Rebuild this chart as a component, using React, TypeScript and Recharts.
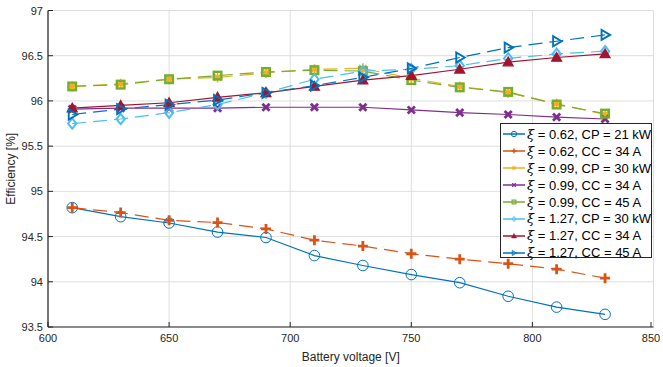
import React from 'react';
import { LineChart, Line, XAxis, YAxis, CartesianGrid } from 'recharts';

// Battery voltage sweep [V]
const voltages = [610, 630, 650, 670, 690, 710, 730, 750, 770, 790, 810, 830];

// Efficiency [%] per operating point
const xi062Cp21 = [94.82, 94.72, 94.65, 94.55, 94.49, 94.29, 94.18, 94.08, 93.99, 93.84, 93.72, 93.64];
const xi062Cc34 = [94.82, 94.765, 94.68, 94.655, 94.585, 94.46, 94.395, 94.31, 94.25, 94.2, 94.14, 94.04];
const xi099Cp30 = [96.16, 96.19, 96.24, 96.26, 96.31, 96.35, 96.36, 96.25, 96.16, 96.09, 95.97, 95.85];
const xi099Cc34 = [95.91, 95.92, 95.92, 95.92, 95.93, 95.93, 95.93, 95.9, 95.87, 95.85, 95.82, 95.8];
const xi099Cc45 = [96.16, 96.18, 96.24, 96.28, 96.32, 96.34, 96.33, 96.23, 96.15, 96.1, 95.96, 95.86];
const xi127Cp30 = [95.75, 95.8, 95.87, 95.96, 96.09, 96.24, 96.33, 96.35, 96.39, 96.47, 96.52, 96.55];
const xi127Cc34 = [95.92, 95.95, 95.98, 96.04, 96.09, 96.16, 96.23, 96.28, 96.35, 96.43, 96.48, 96.52];
const xi127Cc45 = [95.85, 95.91, 95.96, 96.01, 96.09, 96.17, 96.26, 96.36, 96.48, 96.59, 96.66, 96.73];

const xTicks = [600, 650, 700, 750, 800, 850];
const yTicks = [93.5, 94, 94.5, 95, 95.5, 96, 96.5, 97];

type Marker = 'circle' | 'plus' | 'star' | 'cross' | 'square' | 'diamond' | 'triUp' | 'triRight';

const series: { key: string; xi: string; rest: string; color: string; dashed: boolean; marker: Marker; values: number[] }[] = [
  { key: 's1', xi: '0.62', rest: 'CP = 21 kW', color: '#0072BD', dashed: false, marker: 'circle', values: xi062Cp21 },
  { key: 's2', xi: '0.62', rest: 'CC = 34 A', color: '#D95319', dashed: true, marker: 'plus', values: xi062Cc34 },
  { key: 's3', xi: '0.99', rest: 'CP = 30 kW', color: '#EDB120', dashed: true, marker: 'star', values: xi099Cp30 },
  { key: 's4', xi: '0.99', rest: 'CC = 34 A', color: '#7E2F8E', dashed: false, marker: 'cross', values: xi099Cc34 },
  { key: 's5', xi: '0.99', rest: 'CC = 45 A', color: '#77AC30', dashed: true, marker: 'square', values: xi099Cc45 },
  { key: 's6', xi: '1.27', rest: 'CP = 30 kW', color: '#4DBEEE', dashed: true, marker: 'diamond', values: xi127Cp30 },
  { key: 's7', xi: '1.27', rest: 'CC = 34 A', color: '#A2142F', dashed: false, marker: 'triUp', values: xi127Cc34 },
  { key: 's8', xi: '1.27', rest: 'CC = 45 A', color: '#0072BD', dashed: true, marker: 'triRight', values: xi127Cc45 },
];

const data = voltages.map((v, i) => {
  const row: Record<string, number> = { v };
  series.forEach((s) => (row[s.key] = s.values[i]));
  return row;
});

const AXIS = '#262626';
const GRID = '#dedede';
const FONT = '"Liberation Sans", Arial, Helvetica, sans-serif';

const drawMarker = (m: Marker, cx: number, cy: number, color: string, k = 1, key?: string) => {
  const h = 5 * k;
  switch (m) {
    case 'circle':
      return <circle key={key} cx={cx} cy={cy} r={5.3 * k} fill="none" stroke={color} strokeWidth={1} />;
    case 'plus':
      return (
        <path key={key} d={`M${cx - h} ${cy}H${cx + h}M${cx} ${cy - h}V${cy + h}`} stroke={color} strokeWidth={2.8 * k} />
      );
    case 'star': {
      const d = h * 0.72;
      return (
        <path
          key={key}
          d={`M${cx - h} ${cy}H${cx + h}M${cx} ${cy - h}V${cy + h}M${cx - d} ${cy - d}L${cx + d} ${cy + d}M${cx - d} ${cy + d}L${cx + d} ${cy - d}`}
          stroke={color}
          strokeWidth={1.6 * k}
        />
      );
    }
    case 'cross': {
      const d = 3.6 * k;
      return (
        <path key={key} d={`M${cx - d} ${cy - d}L${cx + d} ${cy + d}M${cx - d} ${cy + d}L${cx + d} ${cy - d}`} stroke={color} strokeWidth={2.8 * k} />
      );
    }
    case 'square': {
      const d = 3.8 * k;
      return <rect key={key} x={cx - d} y={cy - d} width={2 * d} height={2 * d} fill="none" stroke={color} strokeWidth={2.4 * k} />;
    }
    case 'diamond': {
      const d = 5.2 * k;
      return (
        <path key={key} d={`M${cx} ${cy - d}L${cx + d * 0.8} ${cy}L${cx} ${cy + d}L${cx - d * 0.8} ${cy}Z`} fill="none" stroke={color} strokeWidth={2 * k} />
      );
    }
    case 'triUp': {
      const d = 5 * k;
      return (
        <path key={key} d={`M${cx} ${cy - d}L${cx + d} ${cy + d * 0.75}L${cx - d} ${cy + d * 0.75}Z`} fill={color} stroke={color} strokeWidth={1.2 * k} />
      );
    }
    case 'triRight': {
      const d = 5 * k;
      return (
        <path key={key} d={`M${cx + d} ${cy}L${cx - d * 0.7} ${cy - d}L${cx - d * 0.7} ${cy + d}Z`} fill="none" stroke={color} strokeWidth={1.9 * k} />
      );
    }
  }
};

const BottomTick = ({ x, y, payload }: any) => (
  <g>
    <line x1={x} y1={y} x2={x} y2={y - 5} stroke={AXIS} />
    <text x={x} y={y + 15} textAnchor="middle" fontSize={11} fill={AXIS} fontFamily={FONT}>
      {payload.value}
    </text>
  </g>
);

const TopTick = ({ x, y }: any) => <line x1={x} y1={y} x2={x} y2={y + 5} stroke={AXIS} />;

const LeftTick = ({ x, y, payload }: any) => (
  <g>
    <line x1={x} y1={y} x2={x + 5} y2={y} stroke={AXIS} />
    <text x={x - 5} y={y + 4} textAnchor="end" fontSize={11} fill={AXIS} fontFamily={FONT}>
      {payload.value}
    </text>
  </g>
);

const RightTick = ({ x, y }: any) => <line x1={x} y1={y} x2={x - 5} y2={y} stroke={AXIS} />;

const LegendBox = () => (
  <div
    style={{
      position: 'absolute',
      left: 500,
      top: 123,
      width: 152,
      height: 135,
      background: '#fff',
      border: `1px solid ${AXIS}`,
      fontFamily: FONT,
      fontSize: 13,
      color: '#000',
      paddingTop: 2,
      boxSizing: 'border-box',
    }}
  >
    {series.map((s) => (
      <div key={s.key} style={{ display: 'flex', alignItems: 'center', height: 16.9, whiteSpace: 'nowrap' }}>
        <svg width={24} height={14} style={{ marginLeft: 1, marginRight: 1 }}>
          <line x1={1} y1={7} x2={23} y2={7} stroke={s.color} strokeWidth={1.5} />
          {drawMarker(s.marker, 12, 7, s.color, 0.5)}
        </svg>
        <span>
          <i style={{ fontFamily: '"DejaVu Serif", serif', fontSize: 13 }}>ξ</i> = {s.xi}, {s.rest}
        </span>
      </div>
    ))}
  </div>
);

export default function App() {
  return (
    <div style={{ position: 'absolute', left: 0, top: 0, width: 663, height: 367, background: '#fff' }}>
      <LineChart width={663} height={367} data={data} margin={{ top: 10.5, right: 9.5, bottom: 0, left: 0 }}>
        <CartesianGrid stroke={GRID} strokeWidth={1} />
        <XAxis
          dataKey="v"
          type="number"
          domain={[600, 850]}
          ticks={xTicks}
          height={40}
          tickSize={0}
          tickMargin={0}
          tickLine={false}
          tick={<BottomTick />}
          stroke={AXIS}
          axisLine={{ stroke: AXIS, strokeWidth: 1.2 }}
          label={{ value: 'Battery voltage [V]', position: 'insideBottom', offset: 6, fill: AXIS, fontSize: 12, fontFamily: FONT }}
        />
        <XAxis
          xAxisId="top"
          dataKey="v"
          type="number"
          orientation="top"
          domain={[600, 850]}
          ticks={xTicks}
          height={0}
          tickSize={0}
          tickMargin={0}
          tickLine={false}
          tick={<TopTick />}
          axisLine={{ stroke: AXIS, strokeWidth: 1.2 }}
        />
        <YAxis
          type="number"
          domain={[93.5, 97]}
          ticks={yTicks}
          width={48}
          tickSize={0}
          tickMargin={0}
          tickLine={false}
          tick={<LeftTick />}
          axisLine={{ stroke: AXIS, strokeWidth: 1.2 }}
          label={{
            value: 'Efficiency [%]',
            angle: -90,
            position: 'insideLeft',
            offset: 11,
            style: { textAnchor: 'middle' },
            fill: AXIS,
            fontSize: 12,
            fontFamily: FONT,
          }}
        />
        <YAxis
          yAxisId="right"
          type="number"
          orientation="right"
          domain={[93.5, 97]}
          ticks={yTicks}
          width={0}
          tickSize={0}
          tickMargin={0}
          tickLine={false}
          tick={<RightTick />}
          axisLine={{ stroke: AXIS, strokeWidth: 1.2 }}
        />
        {series.map((s) => (
          <Line
            key={s.key}
            dataKey={s.key}
            type="linear"
            stroke={s.color}
            strokeWidth={1.2}
            strokeDasharray={s.dashed ? '14 7' : undefined}
            isAnimationActive={false}
            activeDot={false}
            dot={(p: any) => drawMarker(s.marker, p.cx, p.cy, s.color, 1, `${s.key}-${p.index}`)}
          />
        ))}
      </LineChart>
      <LegendBox />
    </div>
  );
}
